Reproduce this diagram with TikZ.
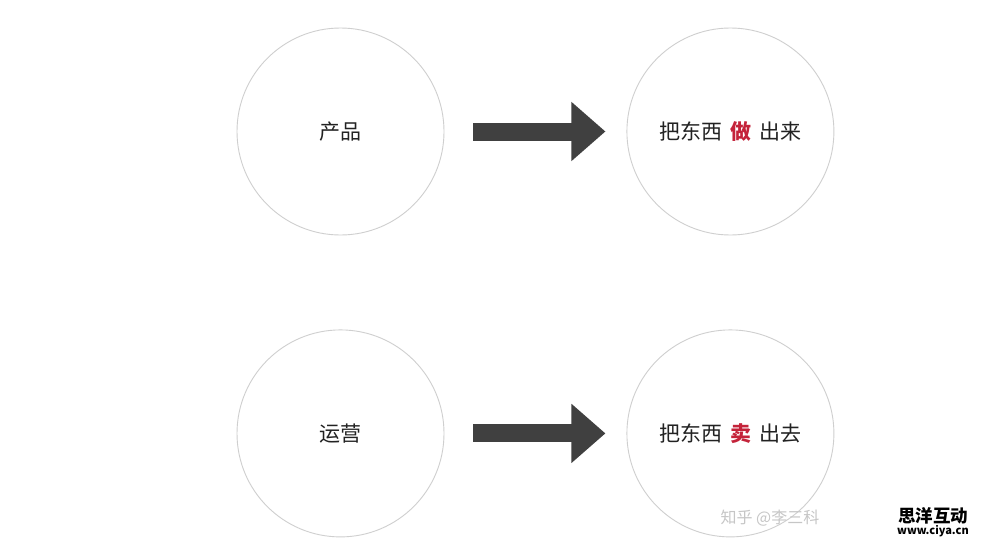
\documentclass[tikz,border=0pt]{standalone}
\usepackage{fontspec}
\setmainfont{Noto Sans CJK SC}
\usetikzlibrary{arrows.meta}
\usetikzlibrary{positioning}
\definecolor{ringgray}{HTML}{CFCFCF}
\definecolor{arrowgray}{HTML}{404040}
\definecolor{keyred}{HTML}{C4233A}
\definecolor{inkblack}{HTML}{222222}
\tikzset{
    ring/.style={circle,draw=ringgray,line width=0.9pt,minimum size=207pt,inner sep=0pt,
        text=inkblack,font=\fontsize{21}{25}\selectfont},
    bigarrow/.style={line width=18pt,color=arrowgray,
        -{Triangle[length=34pt,width=57pt]},shorten <=29pt,shorten >=21pt},
}
\newcommand{\gap}{\hspace{8pt}}
\newcommand{\key}[1]{\textcolor{keyred}{\bfseries #1}}

\begin{document}
\begin{tikzpicture}[x=1pt,y=1pt]
\useasboundingbox[fill=white] (0,0) rectangle (1000,-546);
% left column
\node[ring] (chanpin) at (340.5,-131.5) {产品};
\node[ring,below=94pt of chanpin] (yunying) {运营};
% right column
\node[ring,right=182pt of chanpin] (zuo) {把东西\gap\key{做}\gap 出来};
\node[ring,right=182pt of yunying] (mai) {把东西\gap\key{卖}\gap 出去};
% arrows
\draw[bigarrow] (chanpin.east) -- (zuo.west);
\draw[bigarrow] (yunying.east) -- (mai.west);
% watermarks
\node[text=gray!45,font=\fontsize{16}{18}\selectfont] (zhihu) at (770,-518) {知乎 @李三科};
\node[font=\fontsize{17.5}{19}\selectfont\bfseries,inner sep=0pt] (siyang) at (933,-516) {思洋互动};
\node[font=\fontsize{11}{12}\selectfont\bfseries,inner sep=0pt,below=1pt of siyang] (ciya) {www.ciya.cn};
\end{tikzpicture}
\end{document}
